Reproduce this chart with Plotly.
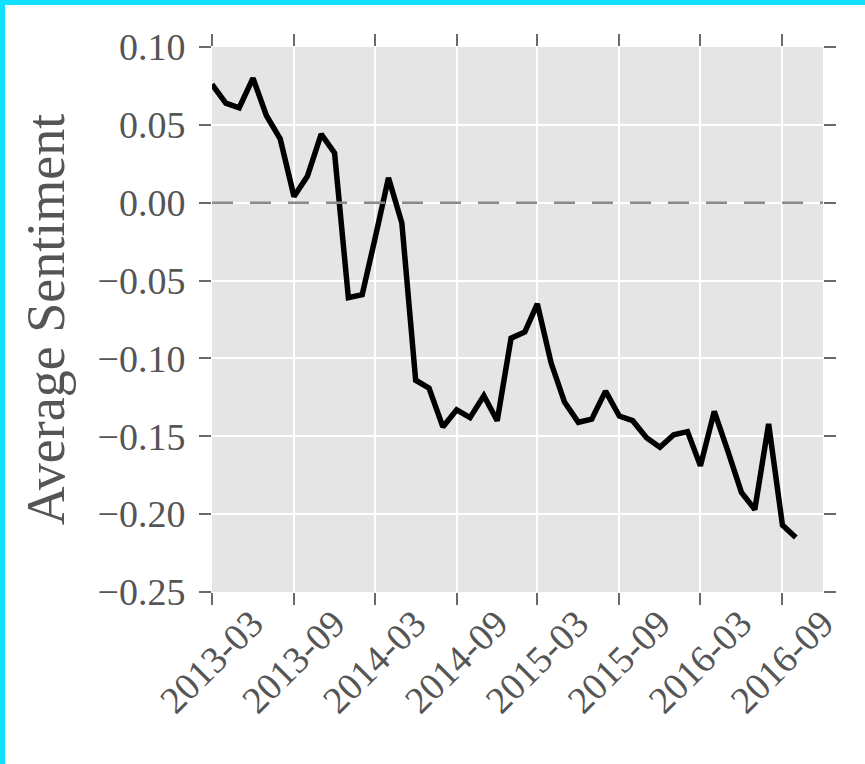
import plotly.graph_objects as go

# Monthly average sentiment
months = [
    "2013-03", "2013-04", "2013-05", "2013-06", "2013-07", "2013-08",
    "2013-09", "2013-10", "2013-11", "2013-12", "2014-01", "2014-02",
    "2014-03", "2014-04", "2014-05", "2014-06", "2014-07", "2014-08",
    "2014-09", "2014-10", "2014-11", "2014-12", "2015-01", "2015-02",
    "2015-03", "2015-04", "2015-05", "2015-06", "2015-07", "2015-08",
    "2015-09", "2015-10", "2015-11", "2015-12", "2016-01", "2016-02",
    "2016-03", "2016-04", "2016-05", "2016-06", "2016-07", "2016-08",
    "2016-09", "2016-10",
]
sentiment = [
    0.076, 0.064, 0.061, 0.080, 0.056, 0.041,
    0.004, 0.017, 0.044, 0.032, -0.061, -0.059,
    -0.024, 0.016, -0.013, -0.114, -0.119, -0.144,
    -0.133, -0.138, -0.124, -0.140, -0.087, -0.083,
    -0.065, -0.103, -0.128, -0.141, -0.139, -0.121,
    -0.137, -0.140, -0.151, -0.157, -0.149, -0.147,
    -0.169, -0.134, -0.159, -0.186, -0.197, -0.142,
    -0.207, -0.215,
]

x_ticks = ["2013-03", "2013-09", "2014-03", "2014-09",
           "2015-03", "2015-09", "2016-03", "2016-09"]
y_ticks = [-0.25, -0.20, -0.15, -0.10, -0.05, 0.00, 0.05, 0.10]

W, H = 865, 764
L, R, T, B = 212, 42, 47, 172

FONT = "Liberation Serif, Times New Roman, serif"
TEXT = "#555555"
TICK = "#6a6a6a"

dates = [m + "-01" for m in months]

fig = go.Figure()
fig.add_trace(go.Scatter(
    x=dates, y=sentiment, mode="lines",
    line=dict(color="black", width=5.5),
    showlegend=False, hoverinfo="skip",
))

# zero reference line
fig.add_hline(y=0, line=dict(color="#8a8a8a", width=2.5, dash="21px,17px"),
              layer="above")

axis_common = dict(
    showgrid=True, gridcolor="white", gridwidth=1.5,
    zeroline=False, showline=False,
    ticks="outside", ticklen=12, tickwidth=1.6, tickcolor=TICK,
    mirror="ticks",
    tickfont=dict(family=FONT, size=38, color=TEXT),
)

fig.update_xaxes(
    type="date",
    range=["2013-03-01", "2016-12-01"],
    tickvals=[t + "-01" for t in x_ticks],
    ticktext=x_ticks,
    tickangle=-45,
    ticklabelshift=40,
    ticklabelstandoff=-19,
    automargin=False,
    **axis_common,
)
fig.update_yaxes(
    range=[-0.25, 0.10],
    tickvals=y_ticks,
    tickformat=".2f",
    ticklabelstandoff=6,
    automargin=False,
    title=dict(text="Average Sentiment",
               font=dict(family=FONT, size=54, color=TEXT),
               standoff=15),
    **axis_common,
)

# frame accent along the top and left edges of the canvas
pw, ph = W - L - R, H - T - B
fig.add_shape(type="rect", xref="paper", yref="paper",
              x0=-L / pw, x1=(W - L) / pw,
              y0=1 + (T - 5) / ph, y1=1 + T / ph,
              fillcolor="#12e2ff", line=dict(width=0), layer="above")
fig.add_shape(type="rect", xref="paper", yref="paper",
              x0=-L / pw, x1=-(L - 5) / pw,
              y0=-B / ph, y1=1 + T / ph,
              fillcolor="#12e2ff", line=dict(width=0), layer="above")

fig.update_layout(
    width=W, height=H,
    margin=dict(l=L, r=R, t=T, b=B, pad=0),
    paper_bgcolor="white",
    plot_bgcolor="#e5e5e5",
    font=dict(family=FONT, color=TEXT),
)

fig.write_html("out.html")
